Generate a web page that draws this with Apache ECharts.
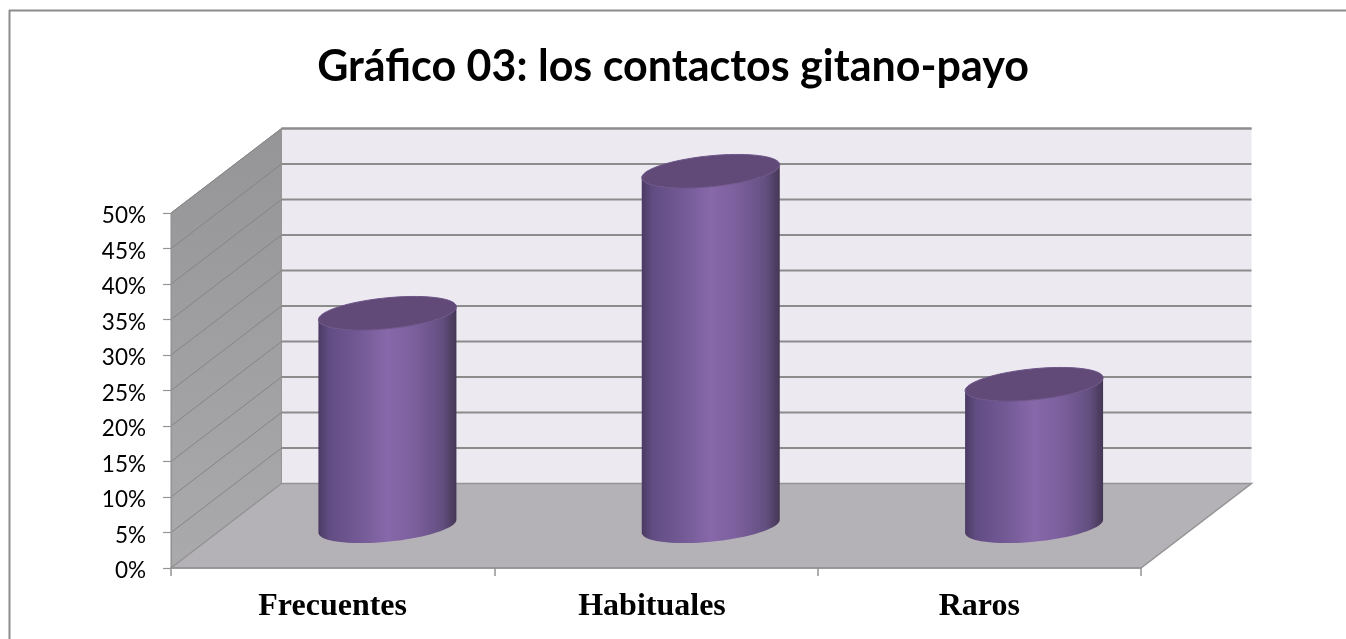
<!DOCTYPE html>
<html><head><meta charset="utf-8">
<style>html,body{margin:0;padding:0;background:#fff}#c{width:1346px;height:639px}</style>
<script src="https://cdn.jsdelivr.net/npm/echarts@6/dist/echarts.min.js"></script>
</head><body><div id="c"></div>
<script>
const titleText = 'Gráfico 03: los contactos gitano-payo';
const categories = ['Frecuentes', 'Habituales', 'Raros'];
const percentages = [30, 50, 20];
const gridTicks = [5, 10, 15, 20, 25, 30, 35, 40, 45, 50];

const DEPTH = [110.5, -84.5];
const RX = 69, TILT = 6.5, RY = 15.5;

const chart = echarts.init(document.getElementById('c'), null, {renderer: 'canvas'});

function wallsItem(params, api) {
  const cs = params.coordSys;
  const L = cs.x, R = cs.x + cs.width, T = cs.y, B = cs.y + cs.height;
  const [dx, dy] = DEPTH;
  const edge = {stroke: '#8f8f8f', lineWidth: 1.8};
  return {type: 'group', children: [
    {type: 'polygon', shape: {points: [[L + dx, T + dy], [R + dx, T + dy], [R + dx, B + dy], [L + dx, B + dy]]},
      style: {fill: '#ece9f1', stroke: 'none'}},
    {type: 'polygon', shape: {points: [[L, T], [L + dx, T + dy], [L + dx, B + dy], [L, B]]},
      style: {fill: {type: 'linear', x: 0, y: 0, x2: 0, y2: 1, colorStops: [{offset: 0, color: '#959497'}, {offset: 1, color: '#aaa9ac'}]}, stroke: '#969696', lineWidth: 1}},
    {type: 'polygon', shape: {points: [[L, B], [L + dx, B + dy], [R + dx, B + dy], [R, B]]},
      style: {fill: '#b5b2b7', stroke: '#949494', lineWidth: 1.5}},
    {type: 'line', shape: {x1: L + dx, y1: T + dy, x2: R + dx, y2: T + dy}, style: edge}
  ]};
}

function gridItem(params, api) {
  const cs = params.coordSys;
  const y = api.coord([0, api.value(0)])[1];
  const L = cs.x, R = cs.x + cs.width;
  const [dx, dy] = DEPTH;
  return {type: 'group', children: [
    {type: 'line', shape: {x1: L, y1: y, x2: L + dx, y2: y + dy}, style: {stroke: '#858585', lineWidth: 1}},
    {type: 'line', shape: {x1: L + dx, y1: y + dy, x2: R + dx, y2: y + dy}, style: {stroke: '#8c8c8c', lineWidth: 1.9}}
  ]};
}

function cylinderItem(params, api) {
  const cat = api.value(0), val = api.value(1);
  const base = api.coord([cat, 0]);
  const top = api.coord([cat, val]);
  const ox = DEPTH[0] / 2, oy = DEPTH[1] / 2 + 0.5;
  const cx = base[0] + ox - 0.5, by = base[1] + oy, ty = top[1] + oy;
  const pt = (t, cy) => [cx + RX * Math.cos(t), cy - TILT * Math.cos(t) - RY * Math.sin(t)];
  const lid = [], side = [];
  for (let i = 0; i <= 72; i++) lid.push(pt(Math.PI * i / 36, ty));
  for (let i = 0; i <= 36; i++) side.push(pt(Math.PI + Math.PI * i / 36, ty));
  for (let i = 36; i >= 0; i--) side.push(pt(Math.PI + Math.PI * i / 36, by));
  return {type: 'group', children: [
    {type: 'polygon', shape: {points: side}, style: {
      fill: {type: 'linear', x: 0, y: 0, x2: 1, y2: 0, colorStops: [
        {offset: 0, color: '#4a3a63'}, {offset: 0.08, color: '#624d83'}, {offset: 0.3, color: '#735a96'},
        {offset: 0.5, color: '#8768aa'}, {offset: 0.7, color: '#7b5f9d'}, {offset: 0.9, color: '#634f80'}, {offset: 1, color: '#453654'}]},
      stroke: 'none'}},
    {type: 'polygon', shape: {points: lid}, style: {fill: '#614a78', stroke: '#6d5589', lineWidth: 1}}
  ]};
}

const xLabelFont = {fontFamily: 'Liberation Serif', fontWeight: 'bold', fontSize: 32, color: '#000'};
const yLabelFont = {fontFamily: 'Lato', fontSize: 22.5, color: '#000'};

chart.setOption({
  animation: false,
  backgroundColor: '#ffffff',
  title: {text: titleText, left: 668, top: 41, textAlign: 'center',
    textStyle: {fontFamily: 'Lato', fontWeight: 'bold', fontSize: 43, color: '#000'}},
  graphic: [
    {type: 'line', shape: {x1: 9, y1: 10.5, x2: 1346, y2: 10.5}, silent: true, z: 100, style: {stroke: '#8c8c8c', lineWidth: 1.8}},
    {type: 'line', shape: {x1: 9.5, y1: 10, x2: 9.5, y2: 639}, silent: true, z: 100, style: {stroke: '#8c8c8c', lineWidth: 2}}
  ],
  grid: {left: 171, top: 213, width: 970, height: 355, containLabel: false},
  xAxis: {type: 'category', data: categories, z: 5,
    axisLine: {lineStyle: {color: '#949494', width: 1.5}},
    axisTick: {show: true, length: 8, alignWithLabel: false, lineStyle: {color: '#949494', width: 1.5}},
    axisLabel: Object.assign({}, xLabelFont, {margin: 23,
      formatter: (v, i) => i === 1 ? '{shift|' + v + '}' : v,
      rich: {shift: Object.assign({}, xLabelFont, {padding: [0, 8, 0, 0]})}}),
    splitLine: {show: false}},
  yAxis: {type: 'value', min: 0, max: 50, interval: 5, z: 5,
    axisLine: {show: true, lineStyle: {color: '#949494', width: 1.2}},
    axisTick: {show: true, length: 8, lineStyle: {color: '#949494', width: 1.2}},
    axisLabel: Object.assign({}, yLabelFont, {margin: 25,
      formatter: v => '{t|' + v + '%}',
      rich: {t: Object.assign({}, yLabelFont, {padding: [6, 0, 0, 0]})}}),
    splitLine: {show: false}},
  series: [
    {type: 'custom', name: 'walls', clip: false, silent: true, z: 1, renderItem: wallsItem, data: [[0]], encode: {x: -1, y: -1}},
    {type: 'custom', name: 'gridlines', clip: false, silent: true, z: 2, renderItem: gridItem, data: gridTicks.map(v => [v]), encode: {x: -1, y: 0}},
    {type: 'custom', name: 'Contactos', clip: false, z: 3, renderItem: cylinderItem,
      data: percentages.map((v, i) => [i, v]), encode: {x: 0, y: 1}}
  ]
});
</script></body></html>
